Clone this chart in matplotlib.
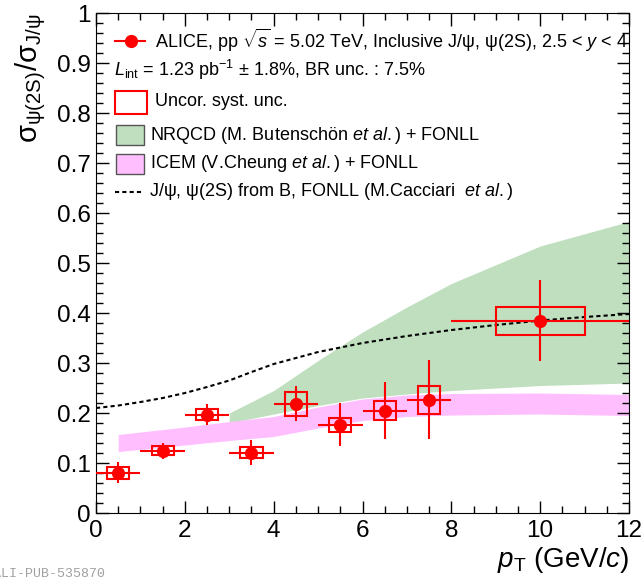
import numpy as np
import matplotlib
matplotlib.use("Agg")
import matplotlib.pyplot as plt
from matplotlib.patches import Rectangle
from matplotlib.lines import Line2D
from matplotlib.ticker import MultipleLocator, FuncFormatter

plt.rcParams['font.family'] = ['Liberation Sans', 'DejaVu Sans']
plt.rcParams['mathtext.fontset'] = 'custom'
plt.rcParams['mathtext.rm'] = 'Liberation Sans'
plt.rcParams['mathtext.it'] = 'Liberation Sans:italic'
plt.rcParams['mathtext.bf'] = 'Liberation Sans:bold'

# ALICE data: psi(2S)/J/psi ratio vs pT
pt_lo = np.array([0, 1, 2, 3, 4, 5, 6, 7, 8])
pt_hi = np.array([1, 2, 3, 4, 5, 6, 7, 8, 12])
pt = np.array([0.5, 1.5, 2.5, 3.5, 4.5, 5.5, 6.5, 7.5, 10])
ratio = np.array([0.081, 0.125, 0.197, 0.121, 0.219, 0.177, 0.205, 0.227, 0.385])
stat = np.array([0.021, 0.016, 0.021, 0.025, 0.035, 0.043, 0.057, 0.079, 0.081])
syst = np.array([0.012, 0.009, 0.011, 0.011, 0.024, 0.014, 0.019, 0.028, 0.028])

# NRQCD + FONLL band
nrqcd_pt = [3, 4, 5, 6, 7, 8, 10, 12]
nrqcd_lo = [0.180, 0.198, 0.215, 0.230, 0.238, 0.245, 0.255, 0.260]
nrqcd_hi = [0.200, 0.245, 0.305, 0.362, 0.412, 0.459, 0.534, 0.583]

# ICEM + FONLL band
icem_pt = [0.5, 1, 2, 3, 4, 5, 6, 7, 8, 10, 12]
icem_lo = [0.123, 0.127, 0.136, 0.145, 0.153, 0.170, 0.185, 0.193, 0.196, 0.198, 0.195]
icem_hi = [0.157, 0.162, 0.172, 0.183, 0.193, 0.212, 0.228, 0.236, 0.239, 0.240, 0.237]

# FONLL non-prompt ratio
fonll_pt = [0, 0.5, 1, 1.5, 2, 2.5, 3, 3.5, 4, 5, 6, 7, 8, 9, 10, 11, 12]
fonll = [0.210, 0.215, 0.222, 0.230, 0.240, 0.252, 0.265, 0.282, 0.298, 0.322,
         0.340, 0.354, 0.366, 0.376, 0.385, 0.392, 0.398]

green = '#bfdfbf'
pink = '#ffbfff'

fig = plt.figure(figsize=(6.44, 5.81), dpi=100)
ax = fig.add_axes([0.1491, 0.1170, 0.8276, 0.8606])

ax.fill_between(nrqcd_pt, nrqcd_lo, nrqcd_hi, color=green, lw=0, zorder=1)
ax.fill_between(icem_pt, icem_lo, icem_hi, color=pink, lw=0, zorder=1)
ax.plot(fonll_pt, fonll, color='black', lw=1.5, ls=(0, (2, 1.5)), zorder=2)

ax.bar(pt, 2 * syst, bottom=ratio - syst, width=(pt_hi - pt_lo) / 2,
       fill=False, edgecolor='red', lw=1.5, zorder=4)
ax.errorbar(pt, ratio, xerr=[pt - pt_lo, pt_hi - pt], yerr=stat, fmt='o',
            color='red', ms=8.5, elinewidth=1.5, capsize=0, zorder=5)

ax.set_xlim(0, 12)
ax.set_ylim(0, 1)
ax.xaxis.set_major_locator(MultipleLocator(2))
ax.xaxis.set_minor_locator(MultipleLocator(0.5))
ax.yaxis.set_major_locator(MultipleLocator(0.1))
ax.yaxis.set_minor_locator(MultipleLocator(0.02))
ax.yaxis.set_major_formatter(FuncFormatter(lambda v, p: '%g' % round(v, 2)))
ax.tick_params(which='both', direction='in', top=True, right=True, labelsize=17.5)
ax.tick_params(which='major', length=9, width=1)
ax.tick_params(which='minor', length=5, width=1)
ax.tick_params(axis='x', pad=5)
ax.tick_params(axis='y', pad=4)

ax.set_ylabel(r'$\mathrm{\sigma}_{\mathrm{\psi(2S)}}/\mathrm{\sigma}_{\mathrm{J/\psi}}$',
              fontsize=21, loc='top', labelpad=6)
ax.set_xlabel(r'$p_{\mathrm{T}}$ (GeV/$c$)', fontsize=20, loc='right', labelpad=2)

# legend, drawn by hand in axes fraction
fs = 13
tr = ax.transAxes
ax.add_line(Line2D([0.036, 0.092], [0.945, 0.945], color='red', lw=1.5, transform=tr))
ax.plot([0.065], [0.945], 'o', color='red', ms=8.5, transform=tr)
ax.text(0.111, 0.945, r'ALICE, pp $\sqrt{s}$ = 5.02 TeV, Inclusive J/ψ, ψ(2S), 2.5 < $y$ < 4',
        transform=tr, fontsize=fs, va='center')
ax.text(0.034, 0.886, r'$L_{\mathrm{int}}$ = 1.23 pb$^{-1}$ ± 1.8%, BR unc. : 7.5%',
        transform=tr, fontsize=fs, va='center')
ax.add_patch(Rectangle((0.036, 0.799), 0.060, 0.046, fill=False, edgecolor='red',
                       lw=1.5, transform=tr))
ax.text(0.111, 0.823, 'Uncor. syst. unc.', transform=tr, fontsize=fs, va='center')
ax.add_patch(Rectangle((0.037, 0.737), 0.053, 0.039, facecolor=green, edgecolor='#555555',
                       lw=1, transform=tr))
ax.text(0.101, 0.756, r'NRQCD (M. Butenschön $et$ $al.$) + FONLL', transform=tr,
        fontsize=fs, va='center')
ax.add_patch(Rectangle((0.037, 0.679), 0.053, 0.040, facecolor=pink, edgecolor='#555555',
                       lw=1, transform=tr))
ax.text(0.101, 0.700, r'ICEM (V.Cheung $et$ $al.$) + FONLL', transform=tr,
        fontsize=fs, va='center')
ax.add_line(Line2D([0.036, 0.089], [0.643, 0.643], color='black', lw=1.5,
                   ls=(0, (2, 1.5)), transform=tr))
ax.text(0.099, 0.643, r'J/ψ, ψ(2S) from B, FONLL (M.Cacciari  $et$ $al.$)', transform=tr,
        fontsize=fs, va='center')

fig.text(-0.011, 0.002, 'ALI-PUB-535870', fontsize=9.5, family='Liberation Mono',
         color='#a0a0a0', va='bottom', ha='left')

fig.savefig('out.png', dpi=100)
